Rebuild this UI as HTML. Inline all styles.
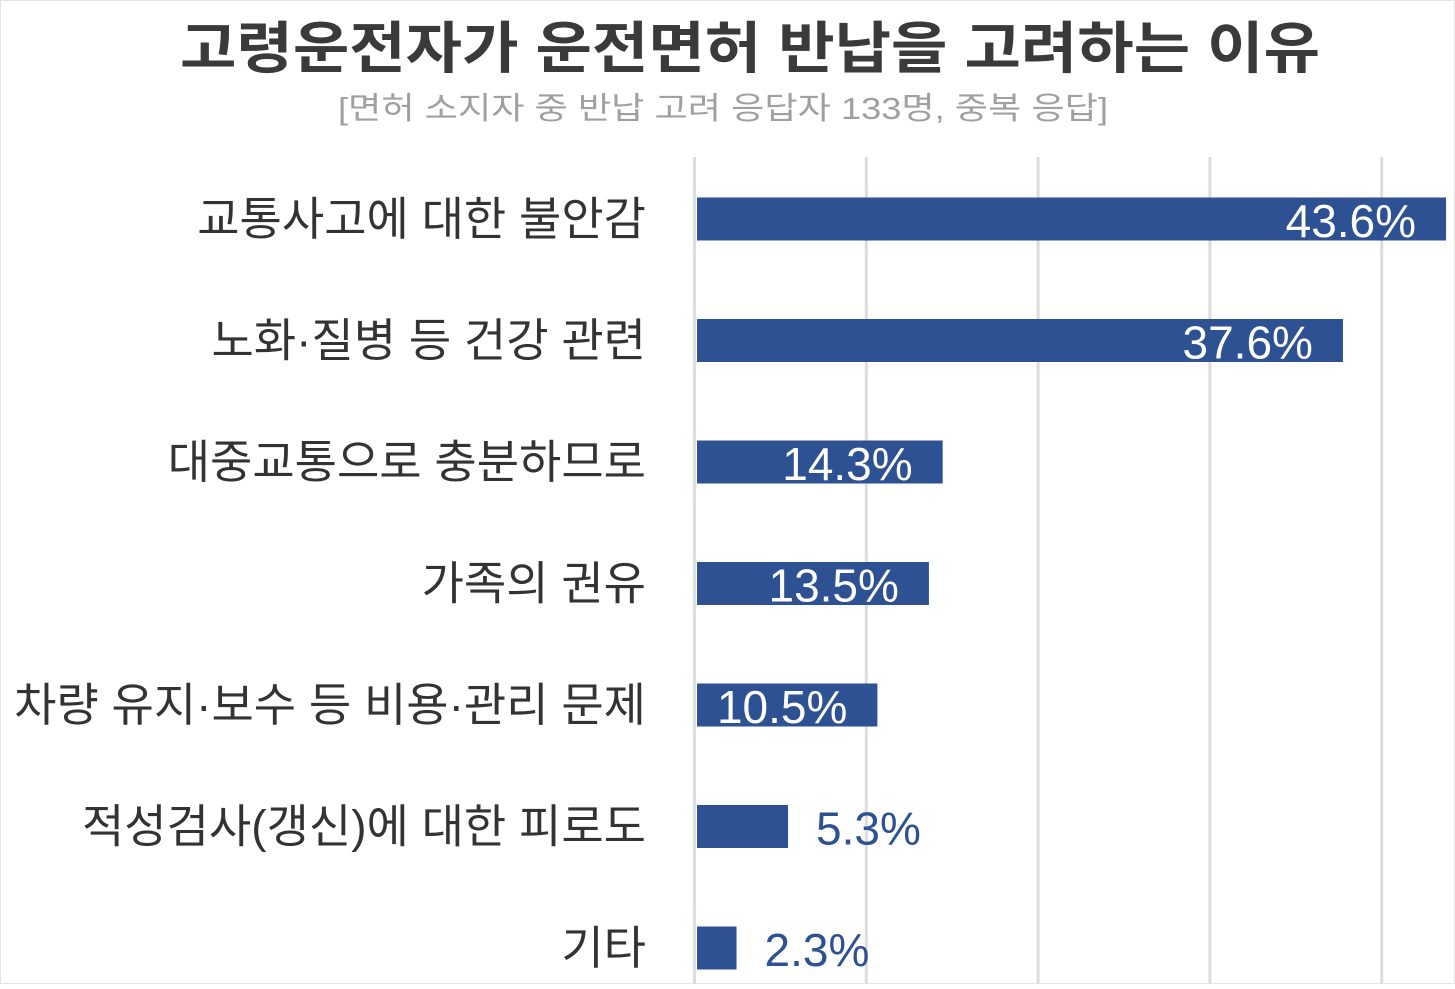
<!DOCTYPE html>
<html><head><meta charset="utf-8">
<style>
html,body{margin:0;padding:0;background:#fff;}
body{width:1455px;height:984px;overflow:hidden;font-family:"Liberation Sans","Noto Sans CJK KR",sans-serif;}
svg text{font-family:"Liberation Sans","Noto Sans CJK KR",sans-serif;}
</style></head><body>
<svg id="chart" width="1455" height="984" xmlns="http://www.w3.org/2000/svg">
<rect x="0.5" y="0.5" width="1454" height="983" fill="#fff" stroke="#e4e4e4"/>
<text x="180" y="68" font-size="56" font-weight="bold" fill="#3a3a3a" textLength="1140" lengthAdjust="spacingAndGlyphs">고령운전자가 운전면허 반납을 고려하는 이유</text>
<text x="338" y="119" font-size="31" fill="#a0a0a0" textLength="770" lengthAdjust="spacingAndGlyphs">[면허 소지자 중 반납 고려 응답자 133명, 중복 응답]</text>
<g id="grid"></g>
<g id="bars"></g>
</svg>
<script>
const categories = ["교통사고에 대한 불안감","노화·질병 등 건강 관련","대중교통으로 충분하므로","가족의 권유","차량 유지·보수 등 비용·관리 문제","적성검사(갱신)에 대한 피로도","기타"];
const values = [43.6,37.6,14.3,13.5,10.5,5.3,2.3];
const valueLabels = ["43.6%","37.6%","14.3%","13.5%","10.5%","5.3%","2.3%"];
const gridTicks = [0,10,20,30,40];

const NS="http://www.w3.org/2000/svg";
const x0=697, pxPer=17.18;
function xScale(v){return x0+v*pxPer;}
function yScale(i){return 219+i*121.5;}
const barH=43;
const grid=document.getElementById('grid');
gridTicks.forEach(t=>{
  const l=document.createElementNS(NS,'line');
  const x=xScale(t)-2.5;
  l.setAttribute('x1',x);l.setAttribute('x2',x);l.setAttribute('y1',157);l.setAttribute('y2',984);
  l.setAttribute('stroke','#dcdcdc');l.setAttribute('stroke-width','3');
  
  
  grid.appendChild(l);
});
const bars=document.getElementById('bars');
categories.forEach((c,i)=>{
  const cy=yScale(i);
  const t=document.createElementNS(NS,'text');
  t.setAttribute('x',646);t.setAttribute('y',cy+16);t.setAttribute('text-anchor','end');
  t.setAttribute('font-size','46');t.setAttribute('fill','#333');
  t.textContent=c;
  
  
  bars.appendChild(t);
  const r=document.createElementNS(NS,'rect');
  r.setAttribute('x',x0);r.setAttribute('y',cy-barH/2);
  r.setAttribute('width',xScale(values[i])-x0);r.setAttribute('height',barH);
  r.setAttribute('fill','#2d5193');
  
  
  bars.appendChild(r);
  const v=document.createElementNS(NS,'text');
  const inside=values[i]>=8;
  v.setAttribute('font-size','46');
  v.setAttribute('y',cy+18);
  if(inside){
    v.setAttribute('x',xScale(values[i])-30);v.setAttribute('text-anchor','end');v.setAttribute('fill','#fff');
  } else {
    v.setAttribute('x',xScale(values[i])+28);v.setAttribute('text-anchor','start');v.setAttribute('fill','#2d5193');
  }
  v.textContent=valueLabels[i];
  
  
  bars.appendChild(v);
});
</script>
</body></html>
